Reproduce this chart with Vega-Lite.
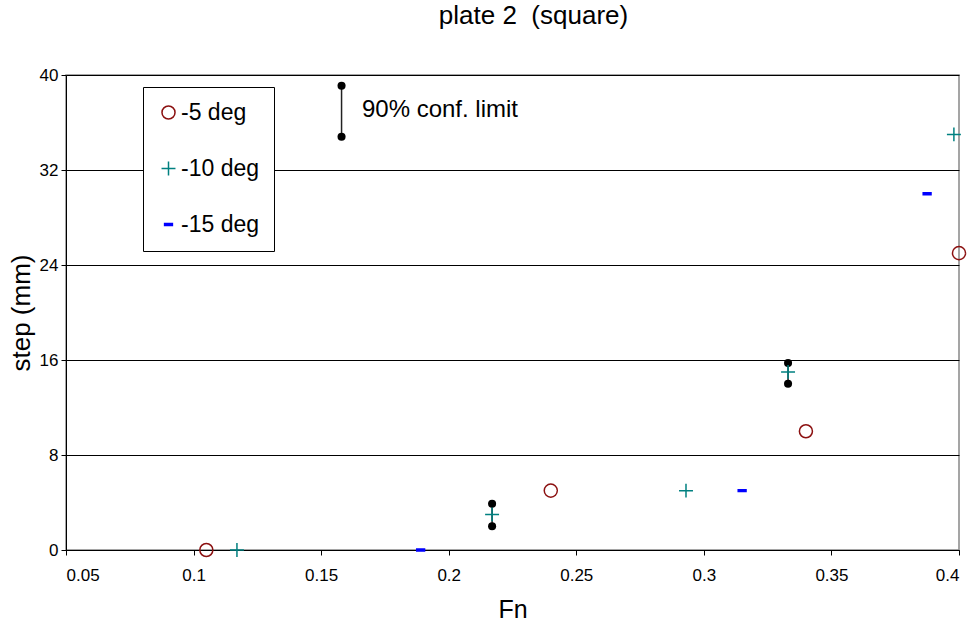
{
  "$schema": "https://vega.github.io/schema/vega-lite/v6.json",
  "autosize": {"type": "none"},
  "padding": {"left": 66, "top": 75, "right": 15, "bottom": 82},
  "width": 893,
  "height": 475,
  "background": "white",
  "title": {"text": "plate 2\u00a0\u00a0(square)", "fontSize": 26, "font": "Liberation Sans", "fontWeight": "normal", "anchor": "middle", "offset": 37, "dx": 21, "color": "#000000"},
  "config": {
    "font": "Liberation Sans",
    "view": {"stroke": "#888888", "strokeWidth": 1.5},
    "axis": {"domainColor": "#000000", "tickColor": "#000000", "gridColor": "#000000", "gridOpacity": 1, "labelColor": "#000000", "titleColor": "#000000", "titleFontWeight": "normal", "tickSize": 5, "labelFont": "Liberation Sans", "titleFont": "Liberation Sans"},
    "legend": {"labelFont": "Liberation Sans"}
  },
  "datasets": {
    "pts": [
      {"Fn": 0.105, "step": 0, "series": "-5 deg"},
      {"Fn": 0.24, "step": 5, "series": "-5 deg"},
      {"Fn": 0.34, "step": 10, "series": "-5 deg"},
      {"Fn": 0.4, "step": 25, "series": "-5 deg"},
      {"Fn": 0.117, "step": 0, "series": "-10 deg"},
      {"Fn": 0.217, "step": 3, "series": "-10 deg"},
      {"Fn": 0.293, "step": 5, "series": "-10 deg"},
      {"Fn": 0.333, "step": 15, "series": "-10 deg"},
      {"Fn": 0.398, "step": 35, "series": "-10 deg"},
      {"Fn": 0.189, "step": 0, "series": "-15 deg"},
      {"Fn": 0.315, "step": 5, "series": "-15 deg"},
      {"Fn": 0.3875, "step": 30, "series": "-15 deg"}
    ],
    "conf": [
      {"Fn": 0.158, "lo": 34.8, "hi": 39.1},
      {"Fn": 0.217, "lo": 2.0, "hi": 3.9},
      {"Fn": 0.333, "lo": 14.0, "hi": 15.75}
    ],
    "note": [
      {"Fn": 0.166, "step": 37.05, "label": "90% conf. limit"}
    ]
  },
  "layer": [
    {
      "data": {"name": "conf"},
      "mark": {"type": "rule", "color": "#222222", "strokeWidth": 1.5},
      "encoding": {
        "x": {"field": "Fn", "type": "quantitative", "scale": {"domain": [0.05, 0.4], "nice": false, "zero": false}, "axis": {"values": [0.05, 0.1, 0.15, 0.2, 0.25, 0.3, 0.35, 0.4], "format": ".2~f", "grid": false, "title": "Fn", "titlePadding": 14, "labelPadding": 12, "labelFontSize": 17, "titleFontSize": 25}},
        "y": {"field": "lo", "type": "quantitative", "scale": {"domain": [0, 40], "nice": false}, "axis": {"values": [0, 8, 16, 24, 32, 40], "grid": true, "title": "step (mm)", "titlePadding": 5, "labelPadding": 3, "labelFontSize": 17, "titleFontSize": 26}},
        "y2": {"field": "hi"}
      }
    },
    {
      "data": {"name": "conf"},
      "mark": {"type": "point", "filled": true, "color": "#000000", "size": 65, "shape": "circle", "opacity": 1},
      "encoding": {
        "x": {"field": "Fn", "type": "quantitative"},
        "y": {"field": "lo", "type": "quantitative"}
      }
    },
    {
      "data": {"name": "conf"},
      "mark": {"type": "point", "filled": true, "color": "#000000", "size": 65, "shape": "circle", "opacity": 1},
      "encoding": {
        "x": {"field": "Fn", "type": "quantitative"},
        "y": {"field": "hi", "type": "quantitative"}
      }
    },
    {
      "data": {"name": "pts"},
      "mark": {"type": "point", "filled": false, "strokeWidth": 1.5, "size": 170, "opacity": 1},
      "encoding": {
        "x": {"field": "Fn", "type": "quantitative"},
        "y": {"field": "step", "type": "quantitative"},
        "color": {"field": "series", "type": "nominal", "scale": {"domain": ["-5 deg", "-10 deg", "-15 deg"], "range": ["#8B1010", "#008080", "#0000FF"]}, "legend": {"title": null, "orient": "none", "legendX": 77, "legendY": 12, "strokeColor": "#000000", "fillColor": "#ffffff", "padding": 14, "rowPadding": 32, "labelFontSize": 23, "labelColor": "#000000", "labelOffset": 1, "symbolSize": 170, "symbolStrokeWidth": 1.5}},
        "shape": {"field": "series", "type": "nominal", "scale": {"domain": ["-5 deg", "-10 deg", "-15 deg"], "range": ["circle", "M-1.07,0L1.07,0M0,-1.07L0,1.07", "M-0.6,-0.15L0.6,-0.15L0.6,0.15L-0.6,0.15ZM-0.6,0L0.6,0"]}}
      }
    },
    {
      "data": {"name": "note"},
      "mark": {"type": "text", "align": "left", "baseline": "middle", "fontSize": 24, "font": "Liberation Sans", "color": "#000000"},
      "encoding": {
        "x": {"field": "Fn", "type": "quantitative"},
        "y": {"field": "step", "type": "quantitative"},
        "text": {"field": "label"}
      }
    }
  ]
}
